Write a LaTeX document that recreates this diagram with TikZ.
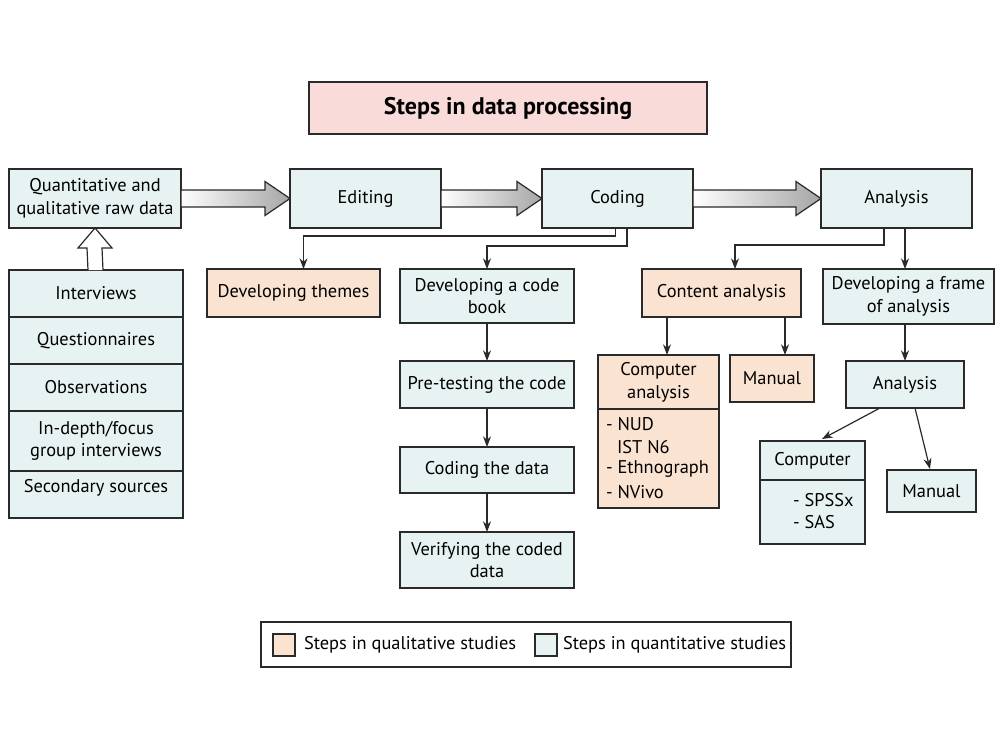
\documentclass[tikz,border=0pt]{standalone}
\usepackage{fontspec}
\setmainfont{PT Sans}
\usetikzlibrary{arrows.meta,calc}
\definecolor{qblue}{HTML}{E7F3F3}
\definecolor{qpeach}{HTML}{FBE3D1}
\definecolor{tpink}{HTML}{F9DBD9}
\definecolor{edge}{HTML}{2A2A2A}
\newcommand\bx[7]{\node[#6, minimum width={(#4-#2)*0.75pt}, minimum height={(#5-#3)*0.75pt}] (#1) at ({(#2+#4)/2},{(#3+#5)/2}) {#7};}
\newcommand\blockarr[2]{\draw[barrow] ($(#1.east)+(0,-8.5)$) -- ($(#2.west)+(-25,-8.5)$) -- ($(#2.west)+(-25,-17)$) -- (#2.west) -- ($(#2.west)+(-25,17)$) -- ($(#2.west)+(-25,8.5)$) -- ($(#1.east)+(0,8.5)$) -- cycle;}
\tikzset{
  x=0.75pt, y=-0.75pt,
  base/.style={draw=edge, line width=1.1pt, inner sep=0pt, outer sep=0pt, align=center, font=\fontsize{13.8}{17}\selectfont, text=black},
  qn/.style={base, fill=qblue},
  ql/.style={base, fill=qpeach},
  tt/.style={base, fill=tpink, font=\fontsize{18}{21}\selectfont\bfseries},
  lg/.style={base, fill=white},
  txt/.style={inner sep=0pt, outer sep=0pt, align=center, font=\fontsize{13.8}{17}\selectfont},
  txtl/.style={inner sep=0pt, outer sep=0pt, anchor=west, font=\fontsize{13.8}{17}\selectfont},
  conn/.style={draw=edge, line width=0.9pt, -{Stealth[length=8pt,width=6pt]}},
  barrow/.style={draw=edge, line width=0.9pt, left color=white, right color=black!35, line join=miter},
  hollow/.style={draw=edge, line width=0.9pt, fill=white, line join=miter},
  divider/.style={draw=edge, line width=1.1pt}
}
\begin{document}
\begin{tikzpicture}
\useasboundingbox (0,0) rectangle (1000,750);
% title
\bx{title}{309}{82}{707}{134}{tt}{Steps in data processing}
% main row
\bx{raw}{9}{169}{181}{228}{qn}{Quantitative and\\qualitative raw data}
\bx{editing}{290}{169}{441}{228}{qn}{Editing}
\bx{coding}{542}{169}{693}{228}{qn}{Coding}
\bx{analysis}{821}{169}{972}{228}{qn}{Analysis}
\blockarr{raw}{editing}
\blockarr{editing}{coding}
\blockarr{coding}{analysis}
% source list
\bx{list}{9}{270}{183}{518}{qn}{}
\draw[divider] (9,317) -- (183,317);
\draw[divider] (9,364) -- (183,364);
\draw[divider] (9,411) -- (183,411);
\draw[divider] (9,471) -- (183,471);
\node[txt] (li1) at (96,293.5) {Interviews};
\node[txt] (li2) at (96,340.5) {Questionnaires};
\node[txt] (li3) at (96,387.5) {Observations};
\node[txt] (li4) at (96,441) {In-depth/focus\\group interviews};
\node[txt] (li5) at (96,488) {Secondary sources};
% hollow up arrow
\draw[hollow] ($(list.north)+(-8,0)$) -- ($(raw.south)+(-8,20)$) -- ($(raw.south)+(-17,20)$) -- (raw.south) -- ($(raw.south)+(17,20)$) -- ($(raw.south)+(7,20)$) -- ($(list.north)+(7,0)$);
% coding branch
\bx{themes}{207}{269}{380}{317}{ql}{Developing themes}
\bx{codebook}{400}{269}{574}{323}{qn}{Developing a code\\book}
\bx{pretest}{400}{361}{574}{408}{qn}{Pre-testing the code}
\bx{codedata}{400}{447}{574}{493}{qn}{Coding the data}
\bx{verify}{400}{532}{574}{588}{qn}{Verifying the coded\\data}
\draw[conn] ($(coding.south)+(-2,0)$) |- ($(themes.north)+(10,-33)$) -- ($(themes.north)+(10,0)$);
\draw[conn] ($(coding.south)+(9.5,0)$) |- ($(codebook.north)+(0,-23)$) -- (codebook.north);
\draw[conn] (codebook.south) -- (pretest.north);
\draw[conn] (pretest.south) -- (codedata.north);
\draw[conn] (codedata.south) -- (verify.north);
% analysis branch
\bx{content}{642}{269}{801}{317}{ql}{Content analysis}
\bx{frame}{823}{269}{994}{324}{qn}{Developing a frame\\of analysis}
\draw[conn] ($(analysis.south)+(-12.5,0)$) |- ($(content.north)+(13.5,-24)$) -- ($(content.north)+(13.5,0)$);
\draw[conn] ($(analysis.south)+(8.5,0)$) -- ($(frame.north)+(-3.5,0)$);
% computer analysis (qualitative)
\bx{compan}{598}{355}{719}{508}{ql}{}
\draw[divider] (598,409) -- (719,409);
\node[txt] (companh) at (658.5,382) {Computer\\analysis};
\node[txtl] (ca1) at (606,424) {- NUD};
\node[txtl] (ca2) at (617,447) {IST N6};
\node[txtl] (ca3) at (606,469.5) {- Ethnograph};
\node[txtl] (ca4) at (606,492) {- NVivo};
\bx{manualA}{730}{355}{814}{402}{ql}{Manual}
\draw[conn] ($(content.south)+(-54.5,0)$) -- ($(compan.north)+(8.5,0)$);
\draw[conn] ($(content.south)+(63.5,0)$) -- ($(manualA.north)+(13,0)$);
% quantitative analysis
\bx{analysisB}{846}{361}{964}{408}{qn}{Analysis}
\draw[conn] ($(frame.south)+(-3.5,0)$) -- (analysisB.north);
\bx{comp}{760}{441}{865}{544}{qn}{}
\draw[divider] (760,480) -- (865,480);
\node[txt] (comph) at (812.5,461) {Computer};
\node[txtl] (cq1) at (793,500) {- SPSSx};
\node[txtl] (cq2) at (793,522) {- SAS};
\bx{manualB}{887}{470}{976}{512}{qn}{Manual}
\draw[conn] ($(analysisB.south)+(-25,0)$) -- ($(comp.north)+(9.5,-2)$);
\draw[conn] ($(analysisB.south)+(10,0)$) -- ($(manualB.north)+(-1.5,-1)$);
% legend
\bx{legend}{261}{622}{791}{667}{lg}{}
\bx{swA}{273}{634}{295}{656}{ql}{}
\node[txtl] (lgA) at (304,645) {Steps in qualitative studies};
\bx{swB}{535}{634}{557}{656}{qn}{}
\node[txtl] (lgB) at (563,645) {Steps in quantitative studies};
\end{tikzpicture}
\end{document}
